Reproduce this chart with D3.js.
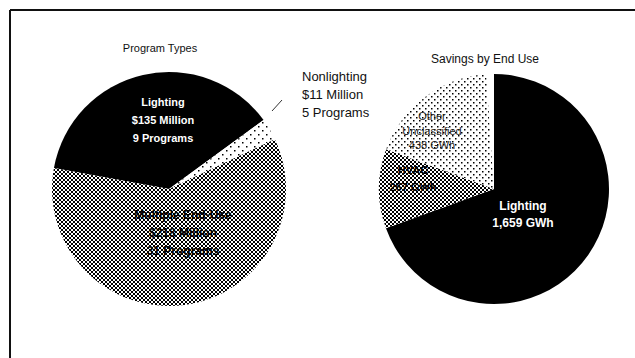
<!DOCTYPE html>
<html><head><meta charset="utf-8">
<script src="https://cdn.jsdelivr.net/npm/d3@7"></script>
<style>
html,body{margin:0;padding:0;background:#fff;}
svg{display:block;font-family:"Liberation Sans",Arial,Helvetica,sans-serif;}
</style></head>
<body><svg id="c" width="635" height="358"></svg>
<script>
// Left pie: Program Types (million $)
const progCategories = ["Lighting", "Nonlighting", "Multiple End-Use"];
const progValues = [135, 11, 218];
const progLabels = [
  ["Lighting", "$135 Million", "9 Programs"],
  ["Nonlighting", "$11 Million", "5 Programs"],
  ["Multiple End-Use", "$218 Million", "31 Programs"]
];
// Right pie: Savings by End Use (GWh)
const useCategories = ["Lighting", "HVAC", "Other Unclassified", "Unlabeled"];
const useValues = [1659, 267, 438, 25];
const useLabels = [
  ["Lighting", "1,659 GWh"],
  ["HVAC", "267 GWh"],
  ["Other", "Unclassified", "438 GWh"],
  []
];
const titles = ["Program Types", "Savings by End Use"];

const svg = d3.select("#c");
const defs = svg.append("defs");

// checker pattern
const chk = defs.append("pattern").attr("id","checker").attr("patternUnits","userSpaceOnUse")
  .attr("width",4).attr("height",4);
chk.append("rect").attr("width",4).attr("height",4).attr("fill","#fff");
chk.append("rect").attr("width",2).attr("height",2).attr("fill","#000");
chk.append("rect").attr("x",2).attr("y",2).attr("width",2).attr("height",2).attr("fill","#000");

// sparse dots
const dots = defs.append("pattern").attr("id","dots").attr("patternUnits","userSpaceOnUse")
  .attr("width",6).attr("height",6);
dots.append("rect").attr("width",6).attr("height",6).attr("fill","#fff");
dots.append("rect").attr("x",0).attr("y",0).attr("width",1.5).attr("height",1.5).attr("fill","#000");
dots.append("rect").attr("x",3).attr("y",3).attr("width",1.5).attr("height",1.5).attr("fill","#000");

// very sparse dots
const sd = defs.append("pattern").attr("id","sdots").attr("patternUnits","userSpaceOnUse")
  .attr("width",8).attr("height",8);
sd.append("rect").attr("width",8).attr("height",8).attr("fill","#fff");
sd.append("rect").attr("x",1).attr("y",1).attr("width",1.5).attr("height",1.5).attr("fill","#000");
sd.append("rect").attr("x",5).attr("y",5).attr("width",1.5).attr("height",1.5).attr("fill","#000");

// frame
svg.append("line").attr("x1",10).attr("y1",10).attr("x2",635).attr("y2",10).attr("stroke","#111").attr("stroke-width",2);
svg.append("line").attr("x1",10).attr("y1",10).attr("x2",10).attr("y2",358).attr("stroke","#111").attr("stroke-width",2);

const deg = Math.PI/180;

// ---- Left pie
{
  const cx = 169, cy = 189, r = 117;
  const g = svg.append("g").attr("transform",`translate(${cx},${cy})`);
  const start = -79.6*deg;
  const pie = d3.pie().sort(null).startAngle(start).endAngle(start+2*Math.PI);
  const arcs = pie(progValues);
  const arc = d3.arc().innerRadius(0).outerRadius(r);
  const fills = ["#000","url(#sdots)","url(#checker)"];
  g.selectAll("path").data(arcs).join("path").attr("d",arc).attr("fill",(d,i)=>fills[i]);

  svg.append("text").attr("x",160).attr("y",52).attr("text-anchor","middle")
    .attr("font-size",11).attr("fill","#111").text(titles[0]);

  // Lighting label
  const lt = svg.append("text").attr("text-anchor","middle").attr("fill","#fff")
    .attr("font-size",11).attr("font-weight","bold");
  progLabels[0].forEach((t,i)=>lt.append("tspan").attr("x",163).attr("y",106+i*18).text(t));
  // Nonlighting label (outside)
  const nt = svg.append("text").attr("fill","#111").attr("font-size",13);
  progLabels[1].forEach((t,i)=>nt.append("tspan").attr("x",302).attr("y",81+i*18).text(t));
  svg.append("line").attr("x1",272).attr("y1",111).attr("x2",282).attr("y2",100)
    .attr("stroke","#333").attr("stroke-width",1);
  // Multi label
  const mt = svg.append("text").attr("text-anchor","middle").attr("fill","#000")
    .attr("font-size",12).attr("font-weight","bold");
  progLabels[2].forEach((t,i)=>mt.append("tspan").attr("x",183).attr("y",219+i*18).text(t));
}

// ---- Right pie
{
  const cx = 494, cy = 189, r = 115;
  const g = svg.append("g").attr("transform",`translate(${cx},${cy})`);
  const pie = d3.pie().sort(null).startAngle(0).endAngle(2*Math.PI);
  const arcs = pie(useValues);
  const arc = d3.arc().innerRadius(0).outerRadius(r);
  const fills = ["#000","url(#checker)","url(#dots)","#fff"];
  g.selectAll("path").data(arcs).join("path").attr("d",arc).attr("fill",(d,i)=>fills[i]);

  svg.append("text").attr("x",485).attr("y",63).attr("text-anchor","middle")
    .attr("font-size",12).attr("fill","#111").text(titles[1]);

  const lt = svg.append("text").attr("text-anchor","middle").attr("fill","#fff")
    .attr("font-size",12).attr("font-weight","bold");
  useLabels[0].forEach((t,i)=>lt.append("tspan").attr("x",523).attr("y",210+i*17).text(t));
  const ht = svg.append("text").attr("text-anchor","middle").attr("fill","#000")
    .attr("font-size",11).attr("font-weight","bold");
  useLabels[1].forEach((t,i)=>ht.append("tspan").attr("x",413).attr("y",174+i*17).text(t));
  const ot = svg.append("text").attr("text-anchor","middle").attr("fill","#222").attr("font-size",11);
  useLabels[2].forEach((t,i)=>ot.append("tspan").attr("x",432).attr("y",120+i*14.5).text(t));
}
</script></body></html>
